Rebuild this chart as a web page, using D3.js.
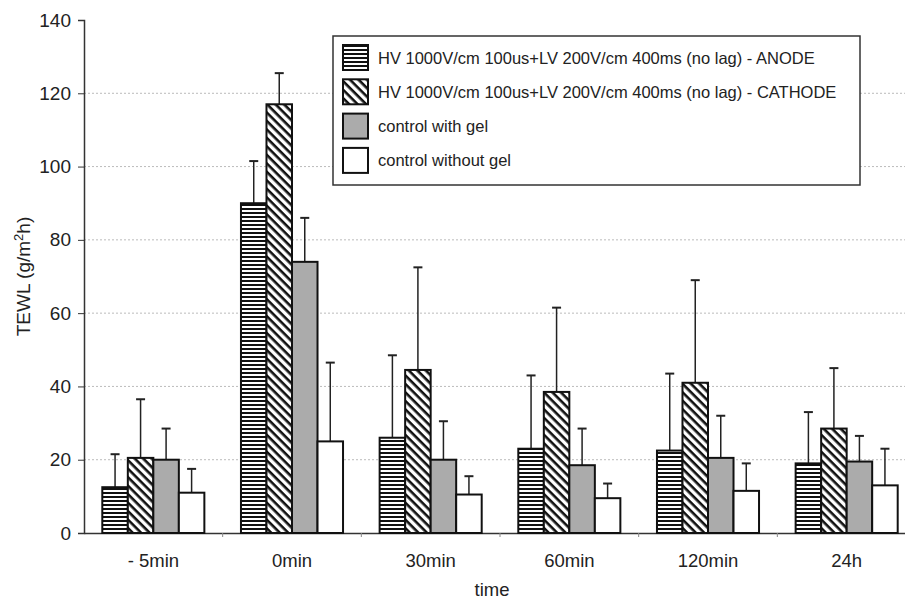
<!DOCTYPE html>
<html>
<head>
<meta charset="utf-8">
<script src="https://cdn.jsdelivr.net/npm/d3@7"></script>
<style>
  body { margin: 0; background: #fff; overflow: hidden; }
  svg { display: block; }
  text { font-family: "Liberation Sans", Arial, sans-serif; fill: #222; }
</style>
</head>
<body>
<svg></svg>
<script>
// categories and series
const times = ["- 5min", "0min", "30min", "60min", "120min", "24h"];
const seriesNames = [
  "HV 1000V/cm 100us+LV 200V/cm 400ms (no lag) - ANODE",
  "HV 1000V/cm 100us+LV 200V/cm 400ms (no lag) - CATHODE",
  "control with gel",
  "control without gel"
];
const anode = [12.5, 90, 26, 23, 22.5, 19];
const cathode = [20.5, 117, 44.5, 38.5, 41, 28.5];
const withGel = [20, 74, 20, 18.5, 20.5, 19.5];
const withoutGel = [11, 25, 10.5, 9.5, 11.5, 13];
// upper end of the error bars
const anodeErr = [21.5, 101.5, 48.5, 43, 43.5, 33];
const cathodeErr = [36.5, 125.5, 72.5, 61.5, 69, 45];
const withGelErr = [28.5, 86, 30.5, 28.5, 32, 26.5];
const withoutGelErr = [17.5, 46.5, 15.5, 13.5, 19, 23];
const yTicks = [0, 20, 40, 60, 80, 100, 120, 140];

const values = [anode, cathode, withGel, withoutGel];
const errs = [anodeErr, cathodeErr, withGelErr, withoutGelErr];
const fills = ["url(#hstripe)", "url(#dstripe)", "#ababab", "#fff"];

const w = 905, h = 600;
// the plot area runs a bit past the right edge of the picture
const m = { left: 84, top: 20, bottom: 67 };
const plotRight = 916;

const svg = d3.select("svg").attr("width", w).attr("height", h);

// patterns
const defs = svg.append("defs");
const hp = defs.append("pattern").attr("id", "hstripe")
  .attr("patternUnits", "userSpaceOnUse").attr("width", 8).attr("height", 4);
hp.append("rect").attr("width", 8).attr("height", 4).attr("fill", "#fff");
hp.append("rect").attr("width", 8).attr("height", 2).attr("fill", "#111");

const dp = defs.append("pattern").attr("id", "dstripe")
  .attr("patternUnits", "userSpaceOnUse").attr("width", 6).attr("height", 6)
  .attr("patternTransform", "rotate(45)");
dp.append("rect").attr("width", 6).attr("height", 6).attr("fill", "#fff");
dp.append("rect").attr("width", 6).attr("height", 2.6).attr("fill", "#111");

const x = d3.scaleBand().domain(times).range([m.left, plotRight]).paddingInner(0.264).paddingOuter(0.132);
const xOuter = d3.scaleBand().domain(times).range([m.left, plotRight]);
const x1 = d3.scaleBand().domain(d3.range(4)).range([0, x.bandwidth()]);
const y = d3.scaleLinear().domain([0, 140]).range([h - m.bottom, m.top]);

// grid
svg.append("g").selectAll("line").data(yTicks.filter(d => d > 0 && d < 140)).join("line")
  .attr("x1", m.left).attr("x2", w)
  .attr("y1", d => y(d)).attr("y2", d => y(d))
  .attr("stroke", "#bbb").attr("stroke-dasharray", "2,2");

// y axis
const ya = svg.append("g").attr("transform", `translate(${m.left},0)`)
  .call(d3.axisLeft(y).tickValues(yTicks).tickSize(6).tickPadding(7));
ya.select(".domain").attr("stroke", "#333").attr("stroke-width", 1.5);
ya.selectAll(".tick line").attr("stroke", "#333");
ya.selectAll("text").attr("font-size", 19).style("font-family", "Liberation Sans, Arial, sans-serif").attr("fill", "#222");

// x axis
const xa = svg.append("g").attr("transform", `translate(0,${y(0)})`)
  .call(d3.axisBottom(x).tickSize(0).tickPadding(21));
xa.select(".domain").attr("stroke", "#333").attr("stroke-width", 1.5);
xa.selectAll("text").attr("font-size", 18.5).style("font-family", "Liberation Sans, Arial, sans-serif").attr("fill", "#222");
svg.append("g").selectAll("line").data(times.slice(1)).join("line")
  .attr("x1", d => xOuter(d)).attr("x2", d => xOuter(d))
  .attr("y1", y(0)).attr("y2", y(0) + 4)
  .attr("stroke", "#888");

// bars
const groups = svg.append("g").selectAll("g").data(times).join("g")
  .attr("transform", d => `translate(${x(d)},0)`);

groups.each(function (t, i) {
  const g = d3.select(this);
  values.forEach((s, k) => {
    const bx = x1(k) + x1.bandwidth() / 2;
    // error bar (upper only)
    g.append("line").attr("x1", bx).attr("x2", bx)
      .attr("y1", y(s[i])).attr("y2", y(errs[k][i]))
      .attr("stroke", "#222").attr("stroke-width", 1.5);
    g.append("line").attr("x1", bx - 4.5).attr("x2", bx + 4.5)
      .attr("y1", y(errs[k][i])).attr("y2", y(errs[k][i]))
      .attr("stroke", "#222").attr("stroke-width", 2);
    g.append("rect")
      .attr("x", x1(k)).attr("width", x1.bandwidth())
      .attr("y", y(s[i])).attr("height", y(0) - y(s[i]))
      .attr("fill", fills[k]).attr("stroke", "#111").attr("stroke-width", 2);
  });
});

// axis titles
svg.append("text").attr("x", 492).attr("y", 596)
  .attr("text-anchor", "middle").attr("font-size", 18.5).text("time");
const yl = svg.append("text").attr("transform", `translate(30,${(m.top + y(0)) / 2}) rotate(-90)`)
  .attr("text-anchor", "middle").attr("font-size", 19);
yl.append("tspan").text("TEWL (g/m");
yl.append("tspan").attr("font-size", 13).attr("dy", -7).text("2");
yl.append("tspan").attr("dy", 7).text("h)");

// legend
const lg = svg.append("g");
lg.append("rect").attr("x", 333).attr("y", 36).attr("width", 527).attr("height", 149)
  .attr("fill", "#fff").attr("stroke", "#333").attr("stroke-width", 1.5);
const li = lg.selectAll("g").data(seriesNames).join("g")
  .attr("transform", (d, i) => `translate(343,${45 + i * 34.3})`);
li.append("rect").attr("width", 25).attr("height", 25)
  .attr("fill", (d, i) => fills[i]).attr("stroke", "#111").attr("stroke-width", 2);
li.append("text").attr("x", 35).attr("y", 18.5).attr("font-size", 16.5).text(d => d);
</script>
</body>
</html>
